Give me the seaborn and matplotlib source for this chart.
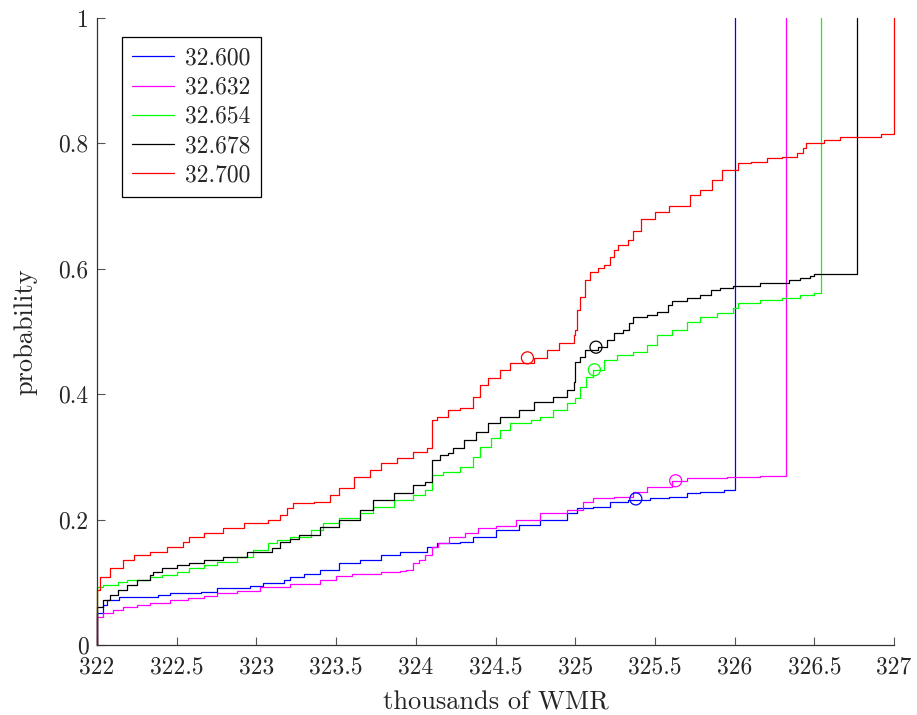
import pandas as pd
import seaborn as sns
import matplotlib.pyplot as plt

# step curves (x in thousands of WMR)
x_600 = [322.0, 322.0, 322.04, 322.06, 322.14, 322.38, 322.46, 322.65, 322.75, 322.96, 323.04, 323.17, 323.21, 323.3, 323.4,
         323.52, 323.65, 323.78, 323.9, 324.07, 324.13, 324.28, 324.36, 324.5, 324.65, 324.78, 324.95, 325.01, 325.11,
         325.22, 325.33, 325.47, 325.59, 325.7, 325.78, 325.93, 326.0]
y_600 = [0.0, 0.051, 0.064, 0.072, 0.077, 0.080, 0.083, 0.085, 0.091, 0.094, 0.099, 0.104, 0.108, 0.113, 0.120,
         0.131, 0.136, 0.144, 0.148, 0.156, 0.163, 0.165, 0.172, 0.183, 0.192, 0.200, 0.210, 0.218, 0.220,
         0.228, 0.231, 0.234, 0.236, 0.242, 0.244, 0.247, 1.0]

x_632 = [322.0, 322.0, 322.04, 322.1, 322.16, 322.25, 322.33, 322.46, 322.57, 322.67, 322.75, 322.88, 323.02, 323.21,
         323.4, 323.5, 323.6, 323.78, 323.9, 323.94, 323.98, 324.02, 324.06, 324.1, 324.14, 324.21, 324.31, 324.39,
         324.5, 324.63, 324.78, 324.95, 325.05, 325.11, 325.24, 325.36, 325.45, 325.61, 325.7, 325.95, 326.16, 326.32]
y_632 = [0.0, 0.045, 0.051, 0.056, 0.061, 0.064, 0.067, 0.072, 0.075, 0.078, 0.083, 0.086, 0.093, 0.097,
         0.103, 0.110, 0.114, 0.116, 0.118, 0.120, 0.131, 0.136, 0.144, 0.156, 0.163, 0.172, 0.179, 0.187,
         0.190, 0.200, 0.210, 0.215, 0.228, 0.234, 0.236, 0.244, 0.252, 0.262, 0.266, 0.268, 0.270, 1.0]

x_654 = [322.0, 322.0, 322.04, 322.13, 322.19, 322.33, 322.41, 322.5, 322.58, 322.67, 322.75, 322.88, 322.98, 323.07,
         323.13, 323.21, 323.34, 323.42, 323.52, 323.65, 323.73, 323.86, 323.98, 324.06, 324.1, 324.17, 324.28, 324.36,
         324.4, 324.47, 324.53, 324.59, 324.72, 324.78, 324.86, 324.95, 325.0, 325.03, 325.07, 325.11, 325.18, 325.26,
         325.36, 325.45, 325.51, 325.61, 325.7, 325.78, 325.89, 325.99, 326.02, 326.16, 326.3, 326.41, 326.5, 326.54]
y_654 = [0.0, 0.093, 0.096, 0.100, 0.104, 0.108, 0.112, 0.116, 0.123, 0.128, 0.132, 0.140, 0.151, 0.163,
         0.167, 0.172, 0.183, 0.195, 0.203, 0.210, 0.220, 0.231, 0.239, 0.247, 0.271, 0.276, 0.284, 0.300,
         0.316, 0.330, 0.343, 0.354, 0.359, 0.364, 0.375, 0.386, 0.394, 0.411, 0.427, 0.439, 0.455, 0.463,
         0.467, 0.478, 0.494, 0.502, 0.515, 0.523, 0.529, 0.537, 0.545, 0.550, 0.553, 0.558, 0.561, 1.0]

x_678 = [322.0, 322.0, 322.04, 322.08, 322.13, 322.19, 322.25, 322.33, 322.35, 322.41, 322.5, 322.58, 322.67, 322.79,
         322.94, 323.1, 323.15, 323.21, 323.27, 323.4, 323.52, 323.65, 323.73, 323.86, 323.98, 324.06, 324.1, 324.15,
         324.2, 324.23, 324.3, 324.38, 324.45, 324.53, 324.65, 324.74, 324.86, 324.95, 324.99, 325.0, 325.03, 325.06,
         325.14, 325.2, 325.24, 325.3, 325.34, 325.36, 325.45, 325.51, 325.58, 325.61, 325.7, 325.78, 325.85, 325.91,
         325.99, 326.16, 326.34, 326.41, 326.47, 326.5, 326.77]
y_678 = [0.0, 0.060, 0.072, 0.080, 0.088, 0.096, 0.104, 0.112, 0.116, 0.123, 0.128, 0.131, 0.136, 0.140,
         0.148, 0.155, 0.165, 0.169, 0.175, 0.188, 0.200, 0.215, 0.231, 0.242, 0.255, 0.260, 0.295, 0.303,
         0.306, 0.314, 0.327, 0.340, 0.354, 0.364, 0.375, 0.388, 0.396, 0.407, 0.420, 0.451, 0.459, 0.470,
         0.475, 0.486, 0.498, 0.502, 0.514, 0.523, 0.526, 0.531, 0.542, 0.549, 0.553, 0.558, 0.566, 0.569,
         0.573, 0.577, 0.582, 0.585, 0.589, 0.592, 1.0]

x_700 = [322.0, 322.0, 322.02, 322.08, 322.16, 322.23, 322.33, 322.44, 322.54, 322.58, 322.67, 322.79, 322.92, 323.07,
         323.15, 323.19, 323.23, 323.36, 323.46, 323.52, 323.61, 323.71, 323.78, 323.88, 323.98, 324.07, 324.1, 324.13,
         324.2, 324.28, 324.36, 324.4, 324.45, 324.53, 324.59, 324.74, 324.82, 324.9, 324.99, 325.0, 325.01, 325.03,
         325.06, 325.09, 325.14, 325.18, 325.22, 325.24, 325.27, 325.33, 325.36, 325.41, 325.5, 325.59, 325.72, 325.78,
         325.86, 325.92, 326.02, 326.1, 326.2, 326.3, 326.39, 326.43, 326.45, 326.56, 326.66, 326.92, 327.0]
y_700 = [0.0, 0.088, 0.108, 0.123, 0.136, 0.144, 0.148, 0.157, 0.165, 0.172, 0.179, 0.186, 0.194, 0.200,
         0.207, 0.218, 0.226, 0.228, 0.239, 0.250, 0.268, 0.279, 0.290, 0.298, 0.308, 0.314, 0.359, 0.364,
         0.375, 0.378, 0.396, 0.415, 0.426, 0.439, 0.450, 0.458, 0.470, 0.482, 0.494, 0.502, 0.534, 0.555,
         0.582, 0.595, 0.601, 0.606, 0.619, 0.630, 0.638, 0.646, 0.660, 0.680, 0.690, 0.700, 0.718, 0.726,
         0.742, 0.758, 0.769, 0.771, 0.776, 0.778, 0.785, 0.793, 0.800, 0.805, 0.810, 0.815, 1.0]

labels = ["32.600", "32.632", "32.654", "32.678", "32.700"]
colors = ["#0000ff", "#ff00ff", "#00ff00", "#000000", "#ff0000"]

# one open circle marker per curve
mark_x = [325.38, 325.63, 325.12, 325.13, 324.70]
mark_y = [0.233, 0.262, 0.439, 0.475, 0.458]

xs = [x_600, x_632, x_654, x_678, x_700]
ys = [y_600, y_632, y_654, y_678, y_700]
frames = []
for lab, x, y in zip(labels, xs, ys):
    frames.append(pd.DataFrame({"x": x, "y": y, "series": lab}))
df = pd.concat(frames, ignore_index=True)

sns.set_style("ticks")
plt.rcParams["font.family"] = ["cmr10", "DejaVu Serif"]
plt.rcParams["mathtext.fontset"] = "cm"
plt.rcParams["axes.formatter.use_mathtext"] = True

fig, ax = plt.subplots(figsize=(9.17, 7.15), dpi=100)
fig.subplots_adjust(left=0.1058, right=0.975, top=0.9748, bottom=0.0979)

sns.lineplot(data=df, x="x", y="y", hue="series", palette=colors, estimator=None, sort=False,
             drawstyle="steps-post", linewidth=0.9, legend=False, ax=ax)
for ln in ax.get_lines():
    ln.set_clip_on(False)

for mx, my, c in zip(mark_x, mark_y, colors):
    ax.scatter([mx], [my], s=75, facecolors="none", edgecolors=c, linewidths=0.9, zorder=5)

handles = [plt.Line2D([], [], color=c, lw=0.9) for c in colors]
leg = ax.legend(handles, labels, loc="upper left", bbox_to_anchor=(0.031, 0.97), borderaxespad=0,
                fontsize=17, handlelength=1.75, labelspacing=0.3, handletextpad=0.5,
                fancybox=False, framealpha=1, edgecolor="black", borderpad=0.45)
leg.get_frame().set_linewidth(0.9)

ax.set_xlim(322, 327)
ax.set_ylim(0, 1)
ax.set_xticks([322, 322.5, 323, 323.5, 324, 324.5, 325, 325.5, 326, 326.5, 327])
ax.set_xticklabels(["322", "322.5", "323", "323.5", "324", "324.5", "325", "325.5", "326", "326.5", "327"])
ax.set_yticks([0, 0.2, 0.4, 0.6, 0.8, 1])
ax.set_yticklabels(["0", "0.2", "0.4", "0.6", "0.8", "1"])
ax.tick_params(direction="in", length=6, width=0.8, color="#555555", labelsize=17, pad=6)
ax.tick_params(axis="x", pad=8)
ax.set_xlabel("thousands of WMR", fontsize=19, labelpad=9)
ax.set_ylabel("probability", fontsize=19, labelpad=15)
sns.despine(ax=ax)
for s in ["left", "bottom"]:
    ax.spines[s].set_linewidth(0.9)
    ax.spines[s].set_color("#333333")

fig.savefig("out.png", dpi=100)
